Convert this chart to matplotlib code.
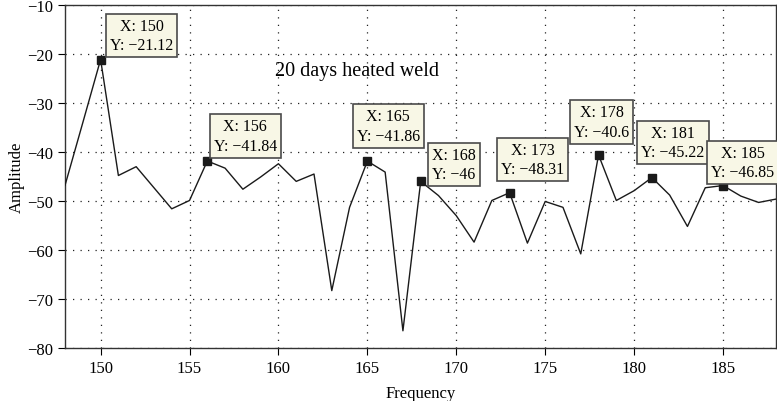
import numpy as np
import matplotlib
matplotlib.use("Agg")
import matplotlib.pyplot as plt

# spectrum, one value per integer frequency
freq = list(range(148, 189))
amp = [-46.8, -34.0, -21.12, -44.8, -43.0, -47.3, -51.6, -49.9, -41.84, -43.3,
       -47.6, -45.1, -42.4, -46.0, -44.5, -68.3, -51.3, -41.86, -44.1, -76.5,
       -46.0, -48.9, -53.0, -58.4, -49.9, -48.31, -58.6, -50.1, -51.3, -60.8,
       -40.6, -49.9, -47.9, -45.22, -48.8, -55.2, -47.3, -46.85, -49.0, -50.3,
       -49.6]

# data tips
tip_x = [150, 156, 165, 168, 173, 178, 181, 185]
tip_y = [-21.12, -41.84, -41.86, -46, -48.31, -40.6, -45.22, -46.85]
# box centre offsets from the marker (pixels)
tip_off = [(41, 24), (38, 25), (21, 35), (33, 17), (23, 33), (3, 33), (21, 35), (20, 23)]

plt.rcParams["font.family"] = ["Liberation Serif", "DejaVu Serif"]

fig = plt.figure(figsize=(7.77, 4.02), dpi=100)
ax = fig.add_axes([0.0837, 0.132, 0.9155, 0.853])

ax.plot(freq, amp, color="#1a1a1a", lw=1.0, zorder=3)

for x, y, (dx, dy) in zip(tip_x, tip_y, tip_off):
    ax.plot([x], [y], marker="s", ms=5.5, color="#1a1a1a", zorder=4)
    ys = ("%g" % y).replace("-", "\u2212")
    ax.annotate("X: %d\nY: %s" % (x, ys), xy=(x, y), xytext=(dx, dy),
                textcoords="offset pixels", ha="center", va="center",
                multialignment="center", fontsize=11.5, linespacing=1.3,
                bbox=dict(boxstyle="square,pad=0.25", fc="#f8f7e6", ec="#4a4a4a", lw=1.2),
                zorder=5, annotation_clip=False)

ax.text(164.4, -23.3, "20 days heated weld", fontsize=14.5, ha="center", va="center")

ax.set_xlim(148, 188)
ax.set_ylim(-80, -10)
ax.set_xticks(np.arange(150, 186, 5))
ax.set_yticks(np.arange(-80, -9, 10))
ax.grid(True, ls=(0, (1, 5)), color="#222222", lw=0.9)
ax.tick_params(direction="out", length=5, labelsize=12, top=False, right=False)
for s in ax.spines.values():
    s.set_linewidth(1.0)
    s.set_color("#333333")

ax.set_xlabel("Frequency", fontsize=12, labelpad=7)
ax.set_ylabel("Amplitude", fontsize=12, labelpad=2)

fig.savefig("out.png", dpi=100)
